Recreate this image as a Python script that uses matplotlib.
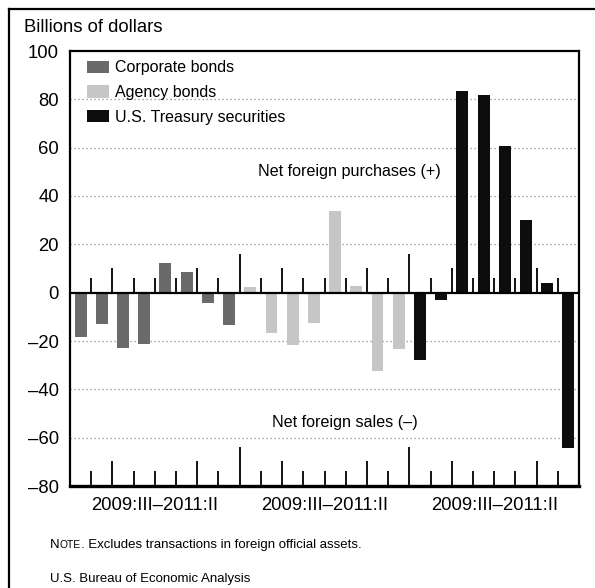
import matplotlib
matplotlib.use("Agg")
import matplotlib.pyplot as plt
from matplotlib.patches import Patch
from matplotlib.lines import Line2D
from matplotlib import font_manager
import numpy as np

plt.rcParams['font.family'] = ['Liberation Sans', 'DejaVu Sans']

# ---- data ----
quarters = ['2009:III', '2009:IV', '2010:I', '2010:II', '2010:III', '2010:IV', '2011:I', '2011:II']
series_names = ['Corporate bonds', 'Agency bonds', 'U.S. Treasury securities']
corporate = [-18.4, -12.8, -22.9, -21.2, 12.2, 8.5, -4.4, -13.5]
agency = [2.3, -16.6, -21.8, -12.7, 33.6, 2.7, -32.5, -23.3]
treasury = [-27.9, -3.1, 83.4, 81.7, 60.5, 29.9, 3.8, -64.2]
group_label = '2009:III\u20132011:II'
y_ticks = [100, 80, 60, 40, 20, 0, -20, -40, -60, -80]

colors = ['#6a6a6a', '#c6c6c6', '#0d0d0d']

names = {f.name for f in font_manager.fontManager.ttflist}
has_narrow = 'Liberation Sans Narrow' in names
narrow = ['Liberation Sans Narrow', 'Liberation Sans', 'DejaVu Sans']
ann_size = 14 if has_narrow else 11.6
leg_size = 13.5 if has_narrow else 11.5

W, H = 595, 588
fig = plt.figure(figsize=(W / 100, H / 100), dpi=100)
ax = fig.add_axes([70 / W, 1 - 486 / H, (579 - 70) / W, (486 - 51) / H])

n = len(quarters)
all_series = [corporate, agency, treasury]
for g, (vals, col) in enumerate(zip(all_series, colors)):
    xs = np.arange(n) + g * n
    ax.bar(xs, vals, width=0.56, color=col, edgecolor='none', zorder=3)

ax.set_xlim(-0.5, 3 * n - 0.5)
ax.set_ylim(-80, 100)

# gridlines
for yv in y_ticks:
    if yv not in (0, 100, -80):
        ax.axhline(yv, color='#8a8a8a', lw=0.9, ls=(0, (1, 2.2)), zorder=1)
ax.axhline(0, color='black', lw=1.6, zorder=4)

# separator tick marks at zero and bottom
small_h, year_h, group_h = 6.2, 10.2, 16.0
for k in range(3 * n - 1):
    pos = k % n
    if pos == n - 1:
        h = group_h
    elif pos in (1, 5):
        h = year_h
    else:
        h = small_h
    xk = k + 0.5
    ax.plot([xk, xk], [0, h], color='black', lw=1.3, zorder=4, solid_capstyle='butt')
    ax.plot([xk, xk], [-80, -80 + h], color='black', lw=1.3, zorder=4, solid_capstyle='butt')

# spines
for s in ['left', 'top', 'right']:
    ax.spines[s].set_linewidth(1.6)
ax.spines['bottom'].set_linewidth(2.4)

ax.set_yticks(y_ticks)
ax.set_yticklabels([str(v).replace('-', '\u2013') for v in y_ticks], fontsize=13.3)
ax.tick_params(axis='y', length=0, pad=8)
ax.set_xticks([(n - 1) / 2 + g * n for g in range(3)])
ax.set_xticklabels([group_label] * 3, fontsize=13.3)
ax.tick_params(axis='x', length=0, pad=8)

# annotations
ax.text(12.65, 50.0, 'Net foreign purchases (+)', fontsize=ann_size, family=narrow,
        ha='center', va='center', zorder=5)
ax.text(12.47, -53.6, 'Net foreign sales (\u2013)', fontsize=ann_size, family=narrow,
        ha='center', va='center', zorder=5)

# legend
handles = [Patch(facecolor=c, edgecolor='none') for c in colors]
leg = ax.legend(handles, series_names, loc='upper left', frameon=False,
                prop={'family': narrow, 'size': leg_size},
                handlelength=1.4, handleheight=0.85, handletextpad=0.35,
                labelspacing=0.6, borderaxespad=0.0, bbox_to_anchor=(0.02, 0.993))

# y-axis title
fig.text(24 / W, 1 - 28 / H, 'Billions of dollars', fontsize=13.3, ha='left', va='center')

# note with small caps
fig.canvas.draw()
r = fig.canvas.get_renderer()
x0 = 50 / W
yb = 1 - 548 / H
t1 = fig.text(x0, yb, 'N', fontsize=9.5, ha='left', va='baseline')
bb = t1.get_window_extent(r)
t2 = fig.text(bb.x1 / W, yb, 'OTE', fontsize=7.4, ha='left', va='baseline')
bb2 = t2.get_window_extent(r)
fig.text(bb2.x1 / W, yb, '. Excludes transactions in foreign official assets.', fontsize=9.5,
         ha='left', va='baseline')
fig.text(x0, 1 - 582 / H, 'U.S. Bureau of Economic Analysis', fontsize=9.5, ha='left', va='baseline')

# outer frame
fig.add_artist(Line2D([9 / W, 1.0], [1 - 9 / H, 1 - 9 / H], color='black', lw=1.6,
                      transform=fig.transFigure))
fig.add_artist(Line2D([9 / W, 9 / W], [0, 1 - 9 / H], color='black', lw=1.6,
                      transform=fig.transFigure))

fig.savefig('out.png', dpi=100)
